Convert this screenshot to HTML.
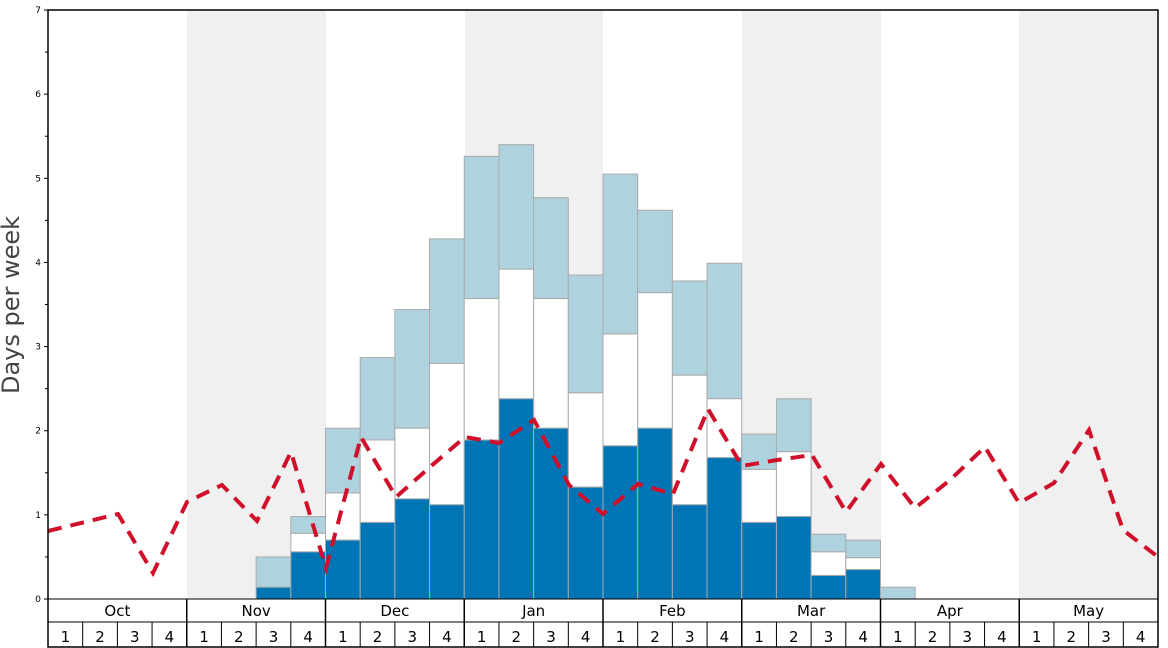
<!DOCTYPE html>
<html><head><meta charset="utf-8"><style>body{margin:0;background:#fff}svg{display:block}</style></head><body>
<svg width="1168" height="648" xmlns="http://www.w3.org/2000/svg" font-family="'DejaVu Sans','Liberation Sans',sans-serif">
<rect width="1168" height="648" fill="#fff"/>
<g fill="#f0f0f0">
<rect x="187" y="10" width="139" height="589"/><rect x="465" y="10" width="138" height="589"/>
<rect x="742" y="10" width="139" height="589"/><rect x="1019" y="10" width="139" height="589"/>
</g>
<g id="bars" stroke="#aaa" stroke-width="1"></g>
<polyline fill="none" stroke="#d0102a" stroke-width="4" stroke-dasharray="14,9" points="48,531 118,514 153,573 187,502 222,485 257,521 291,452 326,568 361,437 396,497 430,467 465,437 499,443 534,420 569,485 603,514 638,484 673,494 708,409 742,466 777,460 812,455 846,512 881,464 915,508 950,480 985,447 1019,503 1054,483 1089,430 1123,530 1158,557"/>
<rect x="48" y="10" width="1110" height="637" fill="none" stroke="#000" stroke-width="1.5"/>
<line x1="48" y1="599" x2="1158" y2="599" stroke="#000"/>
<line x1="48" y1="622" x2="1158" y2="622" stroke="#000"/>
<g id="axis" font-size="9" text-anchor="end"></g>
<text transform="translate(19,305) rotate(-90)" font-size="24" fill="#444" text-anchor="middle">Days per week</text>
<g id="months" font-size="15" text-anchor="middle"></g>
<script>
var ns="http://www.w3.org/2000/svg";
function el(p,t,a,tx){var e=document.createElementNS(ns,t);for(var k in a)e.setAttribute(k,a[k]);if(tx!==undefined)e.textContent=tx;p.appendChild(e);return e;}
var X0=48,W=1110/32,Y0=599,S=84.14;
function y(v){return Y0-v*S;}
var d={6:[0.14,0.14,0.5],7:[0.56,0.78,0.98],8:[0.7,1.26,2.03],9:[0.91,1.89,2.87],10:[1.19,2.03,3.44],11:[1.12,2.8,4.28],12:[1.89,3.57,5.26],13:[2.38,3.92,5.4],14:[2.03,3.57,4.77],15:[1.33,2.45,3.85],16:[1.82,3.15,5.05],17:[2.03,3.64,4.62],18:[1.12,2.66,3.78],19:[1.68,2.38,3.99],20:[0.91,1.54,1.96],21:[0.98,1.75,2.38],22:[0.28,0.56,0.77],23:[0.35,0.49,0.70],24:[0,0,0.14]};
var b=document.getElementById("bars");
for(var i in d){var v=d[i],x=X0+i*W;
el(b,"rect",{x:x,y:y(v[2]),width:W,height:(v[2]-v[1])*S,fill:"#aed3df"});
if(v[1]>v[0])el(b,"rect",{x:x,y:y(v[1]),width:W,height:(v[1]-v[0])*S,fill:"#ffffff"});
if(v[0]>0)el(b,"rect",{x:x,y:y(v[0]),width:W,height:v[0]*S,fill:"#0075b5"});}
var a=document.getElementById("axis");
for(var k=0;k<=7;k++){el(a,"text",{x:41,y:y(k)+3},k);el(a,"line",{x1:44,x2:48,y1:y(k),y2:y(k),stroke:"#000"});
if(k<7)el(a,"line",{x1:45,x2:48,y1:y(k+0.5),y2:y(k+0.5),stroke:"#000"});}
var m=document.getElementById("months"),names=["Oct","Nov","Dec","Jan","Feb","Mar","Apr","May"];
for(var j=0;j<8;j++){var mx=X0+j*4*W;el(m,"text",{x:mx+2*W,y:616},names[j]);
if(j>0)el(m,"line",{x1:mx,x2:mx,y1:599,y2:647,stroke:"#000","stroke-width":1.5});
for(var w=0;w<4;w++){el(m,"text",{x:mx+(w+0.5)*W,y:642},w+1);if(w>0)el(m,"line",{x1:mx+w*W,x2:mx+w*W,y1:622,y2:647,stroke:"#000"});}}
</script>
</svg>
</body></html>
